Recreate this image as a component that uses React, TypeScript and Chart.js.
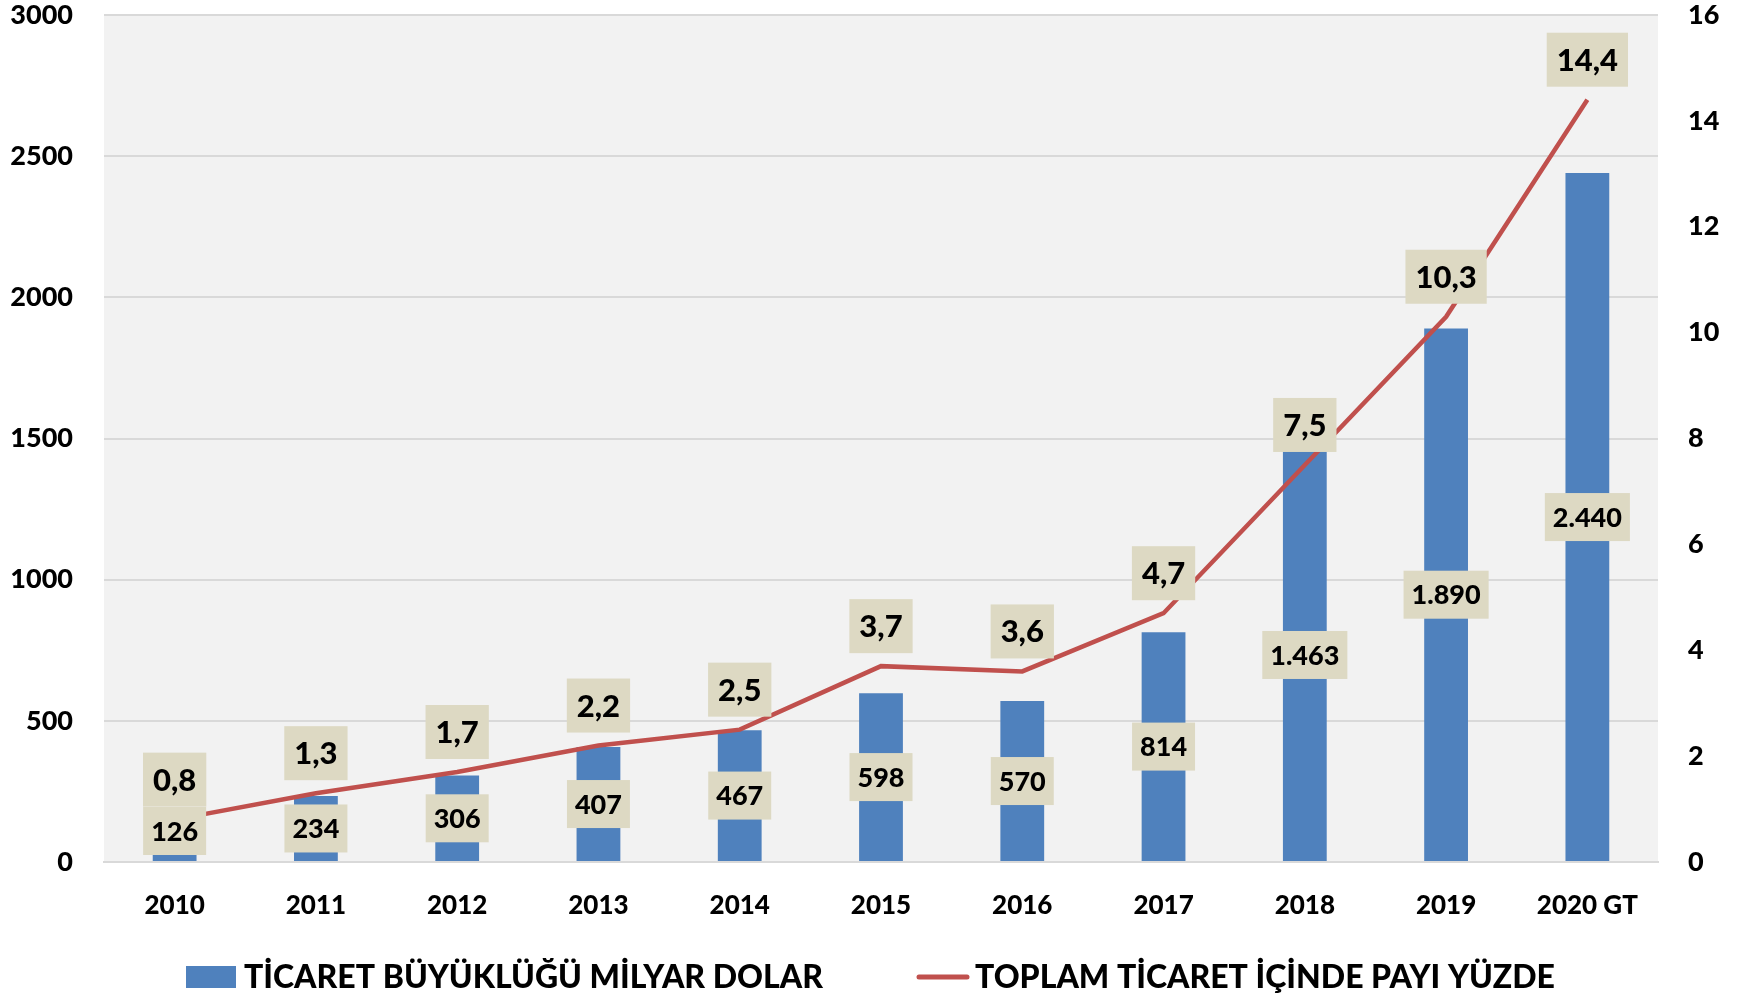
import React, { useEffect, useRef } from "react";
import { Chart, registerables } from "chart.js";

Chart.register(...registerables);

const categories = ["2010", "2011", "2012", "2013", "2014", "2015", "2016", "2017", "2018", "2019", "2020 GT"];
const tradeVolume = [126, 234, 306, 407, 467, 598, 570, 814, 1463, 1890, 2440];
const tradeShare = [0.8, 1.3, 1.7, 2.2, 2.5, 3.7, 3.6, 4.7, 7.5, 10.3, 14.4];
const leftTicks = [0, 500, 1000, 1500, 2000, 2500, 3000];
const rightTicks = [0, 2, 4, 6, 8, 10, 12, 14, 16];
const barLegend = "TİCARET BÜYÜKLÜĞÜ MİLYAR DOLAR";
const lineLegend = "TOPLAM TİCARET İÇİNDE PAYI YÜZDE";

const BAR_COLOR = "#4f81bd";
const LINE_COLOR = "#c0504d";
const LABEL_BG = "#ddd9c3";
const FONT = "Lato, 'Open Sans', sans-serif";
const W = "900";

function fmtThousands(v: number): string {
  const s = String(Math.round(v));
  return s.replace(/\B(?=(\d{3})+(?!\d))/g, ".");
}
function fmtDecimal(v: number): string {
  return v.toFixed(1).replace(".", ",");
}

const bgPlugin = {
  id: "plotBg",
  beforeDraw(chart: any) {
    const { ctx, chartArea } = chart;
    ctx.save();
    ctx.fillStyle = "#f2f2f2";
    ctx.fillRect(chartArea.left, chartArea.top, chartArea.right - chartArea.left, chartArea.bottom - chartArea.top);
    ctx.restore();
  },
};

const labelPlugin = {
  id: "labels",
  afterDatasetsDraw(chart: any) {
    const ctx = chart.ctx;
    ctx.save();
    ctx.textAlign = "center";
    ctx.textBaseline = "middle";
    const barMeta = chart.getDatasetMeta(0);
    ctx.font = `${W} 27px ${FONT}`;
    barMeta.data.forEach((el: any, i: number) => {
      const txt = fmtThousands(tradeVolume[i]);
      const w = ctx.measureText(txt).width + 16;
      const h = 48;
      let cy = (el.y + el.base) / 2;
      if (cy + h / 2 > el.base - 6) cy = el.base - 6 - h / 2;
      ctx.fillStyle = LABEL_BG;
      ctx.fillRect(el.x - w / 2, cy - h / 2, w, h);
      ctx.fillStyle = "#000";
      ctx.fillText(txt, el.x, cy + 1);
    });
    const lineMeta = chart.getDatasetMeta(1);
    ctx.font = `${W} 31px ${FONT}`;
    lineMeta.data.forEach((el: any, i: number) => {
      const txt = fmtDecimal(tradeShare[i]);
      const w = ctx.measureText(txt).width + 20;
      const h = 54;
      const cy = el.y - 40;
      ctx.fillStyle = LABEL_BG;
      ctx.fillRect(el.x - w / 2, cy - h / 2, w, h);
      ctx.fillStyle = "#000";
      ctx.fillText(txt, el.x, cy + 1);
    });
    ctx.restore();
  },
  afterDraw(chart: any) {
    const ctx = chart.ctx;
    ctx.save();
    const cy = 977;
    ctx.fillStyle = BAR_COLOR;
    ctx.fillRect(186, 966, 50, 22);
    ctx.strokeStyle = LINE_COLOR;
    ctx.lineWidth = 5;
    ctx.lineCap = "round";
    ctx.beginPath();
    ctx.moveTo(919, cy);
    ctx.lineTo(967, cy);
    ctx.stroke();
    ctx.fillStyle = "#000";
    ctx.font = `${W} 32px ${FONT}`;
    ctx.textAlign = "left";
    ctx.textBaseline = "middle";
    ctx.fillText(barLegend, 244, cy + 1);
    ctx.fillText(lineLegend, 975, cy + 1);
    ctx.restore();
  },
};

export default function App() {
  const ref = useRef<HTMLCanvasElement | null>(null);
  useEffect(() => {
    if (!ref.current) return;
    const chart = new Chart(ref.current, {
      type: "bar",
      data: {
        labels: categories,
        datasets: [
          {
            type: "bar",
            label: barLegend,
            data: tradeVolume,
            backgroundColor: BAR_COLOR,
            yAxisID: "y",
            barPercentage: 0.62,
            categoryPercentage: 0.5,
            order: 2,
          },
          {
            type: "line",
            label: lineLegend,
            data: tradeShare,
            borderColor: LINE_COLOR,
            borderWidth: 4.5,
            pointRadius: 0,
            tension: 0,
            yAxisID: "y1",
            order: 1,
          } as any,
        ],
      },
      options: {
        animation: false,
        responsive: false,
        maintainAspectRatio: false,
        layout: { padding: { top: 15, left: 0, right: 0, bottom: 0 } },
        plugins: { legend: { display: false }, tooltip: { enabled: false } },
        scales: {
          x: {
            offset: true,
            grid: { display: false, drawTicks: false },
            border: { display: true, color: "#d9d9d9", width: 2 },
            ticks: { color: "#000", font: { family: FONT, size: 26, weight: W }, padding: 28, maxRotation: 0 },
            afterFit(scale: any) {
              scale.height = 132;
              scale.paddingLeft = 0;
              scale.paddingRight = 0;
            },
          },
          y: {
            position: "left",
            min: 0,
            max: 3000,
            afterBuildTicks(scale: any) {
              scale.ticks = leftTicks.map((v) => ({ value: v }));
            },
            grid: { color: "#d9d9d9", lineWidth: 2, drawTicks: false },
            border: { display: false },
            ticks: {
              color: "#000",
              font: { family: FONT, size: 27, weight: W },
              padding: 31,
              callback: (v: any) => String(v),
            },
            afterFit(scale: any) {
              scale.width = 104;
              scale.paddingTop = 0;
              scale.paddingBottom = 0;
            },
          },
          y1: {
            position: "right",
            min: 0,
            max: 16,
            afterBuildTicks(scale: any) {
              scale.ticks = rightTicks.map((v) => ({ value: v }));
            },
            grid: { display: false, drawTicks: false },
            border: { display: false },
            ticks: {
              color: "#000",
              font: { family: FONT, size: 27, weight: W },
              padding: 30,
              callback: (v: any) => String(v),
            },
            afterFit(scale: any) {
              scale.width = 82;
              scale.paddingTop = 0;
              scale.paddingBottom = 0;
            },
          },
        },
      },
      plugins: [bgPlugin, labelPlugin],
    });
    return () => chart.destroy();
  }, []);
  return (
    <div style={{ position: "fixed", left: 0, top: 0, width: 1740, height: 994, background: "#fff" }}>
      <canvas ref={ref} width={1740} height={994} style={{ width: 1740, height: 994, display: "block" }} />
    </div>
  );
}
